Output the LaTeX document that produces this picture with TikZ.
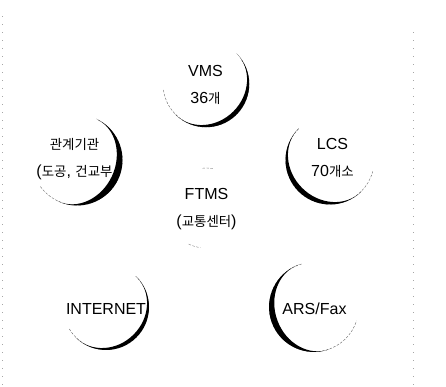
\documentclass[tikz,border=0pt]{standalone}
\usepackage{fontspec}
\setmainfont{Liberation Sans}
\newfontfamily\kr[Scale=0.84]{Noto Sans CJK KR}
\tikzset{
  lbl/.style={font=\fontsize{16}{27}\selectfont, inner sep=0pt, align=center, anchor=center},
  thinring/.style={line width=0.4pt, black!60, dash pattern=on 2.5pt off 1.5pt},
  frameline/.style={line width=0.6pt, black!35, dash pattern=on 1pt off 7pt}
}
\begin{document}
\begin{tikzpicture}[x=1pt,y=1pt]
\useasboundingbox (0,0) rectangle (446,387);
% faint scan frame lines
\draw[frameline] (2,2) -- (2,377);
\draw[frameline] (413,2) -- (413,362);
% shaded rings: cx/cy/r/thick angle/thickness/start/end
\foreach \cx/\cy/\r/\ta/\w/\sa/\ea in {206/303/41/-45/4.5/188/396, 77/227/42/-25/7/216/423, 330/227/42/225/5/135/345, 106/80/41/-45/4/211/406, 314/80/42/200/6/106/342}{
  \pgfmathsetmacro\R{\r+\w/2}
  \pgfmathsetmacro\Ri{\R-\w}
  \pgfmathsetmacro\Rt{\R-0.25}
  \draw[thinring] ([shift={(\sa:\Rt pt)}]\cx,\cy) arc[start angle=\sa, end angle=\ea, radius=\Rt pt];
  \begin{scope}[shift={(\cx,\cy)}, rotate=\ta]
    \fill[black] (-90:\R pt) arc[start angle=-90, end angle=90, radius=\R pt]
      arc[start angle=90, end angle=-90, x radius=\Ri pt, y radius=\R pt] -- cycle;
  \end{scope}
}
% faint marks around FTMS
\draw[thinring, black!50] ([shift={(80:39pt)}]206,180) arc[start angle=80, end angle=97, radius=39pt];
\draw[thinring, black!50] ([shift={(245:41pt)}]206,180) arc[start angle=245, end angle=262, radius=41pt];
% labels
\node[lbl] (vms)  at (205.5,302.5) {VMS\\36{\kr 개}};
\node[lbl] (org)  at (74.5,228) {{\kr 관계기관}\\({\kr 도공}, {\kr 건교부}};
\node[lbl] (lcs)  at (332.5,229) {LCS\\70{\kr 개소}};
\node[lbl] (ftms) at (206.5,177.5) {FTMS\\({\kr 교통센터})};
\node[lbl] (inet) at (106,78) {INTERNET};
\node[lbl] (ars)  at (314.5,78) {ARS/Fax};
\end{tikzpicture}
\end{document}
